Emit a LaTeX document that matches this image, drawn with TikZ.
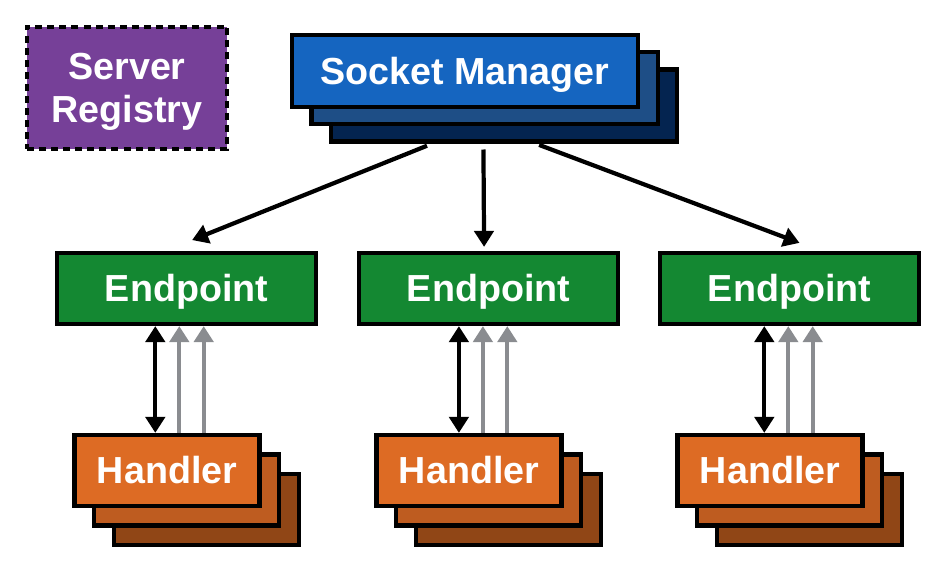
\documentclass[tikz,border=0pt]{standalone}
\usepackage{fontspec}
\setmainfont{Liberation Sans}
\usetikzlibrary{arrows.meta,positioning,calc}

\definecolor{regpurple}{RGB}{118,64,152}
\definecolor{smblue}{RGB}{21,101,192}
\definecolor{smblue2}{RGB}{30,78,134}
\definecolor{smblue3}{RGB}{4,36,80}
\definecolor{epgreen}{RGB}{20,136,50}
\definecolor{hdorange}{RGB}{221,107,36}
\definecolor{hdorange2}{RGB}{190,92,32}
\definecolor{hdorange3}{RGB}{144,70,22}
\definecolor{feedgray}{RGB}{138,140,144}

\begin{document}
\begin{tikzpicture}[
  font=\bfseries\fontsize{26.8}{30.5}\selectfont,
  box/.style={draw=black, line width=3pt, text=white, align=center, inner sep=0pt, text depth=0pt},
  registry/.style={box, fill=regpurple, line width=2.8pt, dash pattern=on 5pt off 3.6pt, minimum width=50.1mm, minimum height=30.6mm},
  manager/.style={box, text height=19.2pt, minimum width=86.5mm, minimum height=18mm},
  endpoint/.style={box, text height=19.2pt, fill=epgreen, minimum width=64.75mm, minimum height=17.75mm},
  handler/.style={box, text height=19.2pt, minimum width=46.25mm, minimum height=17.75mm},
  link/.style={-{Triangle[length=4mm, width=4.8mm]}, line width=3pt},
  dual/.style={link, {Triangle[length=4mm, width=4.8mm]}-{Triangle[length=4mm, width=4.8mm]}},
  feed/.style={link, draw=feedgray, fill=feedgray}
]
\useasboundingbox (0,0) rectangle (23.65,14.35);

\node[registry] (reg) at (3.175,12.15) {Server\\Registry};

% stacked manager
\coordinate (smc) at (11.625,12.575);
\foreach \k/\c in {2/smblue3, 1/smblue2}
  \node[manager, fill=\c] (smback\k) at ($(smc)+(\k*0.49,-\k*0.43)$) {};
\node[manager, fill=smblue] (sm) at (smc) {Socket Manager};
\coordinate (smfoot) at (smback1.south |- smback2.south);

\foreach \n/\x/\d in {L/4.6625/0, M/12.2125/0.04, R/19.7375/0.15} {
  \node[endpoint] (ep\n) at (\x,7.1375) {Endpoint};
  \foreach \k/\c in {2/hdorange3, 1/hdorange2}
    \node[handler, fill=\c] (hd\n\k) at ($(\x-0.4875,2.5875)+(\k*0.49,-\k*0.49)$) {};
  \node[handler, fill=hdorange] (hd\n) at (\x-0.4875,2.5875) {Handler};
  \foreach \j/\o in {1/-0.78, 2/-0.18, 3/0.43}
    \coordinate (up\n\j) at ($(ep\n.south)+(\o+\d,0)$);
  \draw[dual] (up\n1) -- (up\n1 |- hd\n.north);
  \draw[feed] (up\n2 |- hd\n.north) -- (up\n2);
  \draw[feed] (up\n3 |- hd\n.north) -- (up\n3);
}

\draw[link, shorten <=0.15cm] ([xshift=-1.3cm]smfoot) -- ([xshift=0.14cm, yshift=0.27cm]epL.north);
\draw[link, shorten <=0.15cm] ([xshift=-0.03cm]smfoot) -- ([xshift=-0.11cm, yshift=0.1cm]epM.north);
\draw[link, shorten <=0.1cm] ([xshift=1.27cm]smfoot) -- ([xshift=0.25cm, yshift=0.2cm]epR.north);

\end{tikzpicture}
\end{document}
